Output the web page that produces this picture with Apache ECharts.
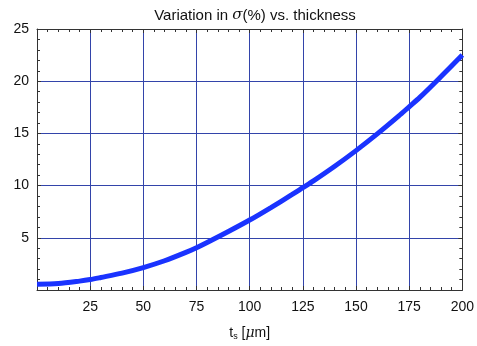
<!DOCTYPE html>
<html>
<head>
<meta charset="utf-8">
<script src="https://cdn.jsdelivr.net/npm/echarts@6/dist/echarts.min.js"></script>
<style>html,body{margin:0;padding:0;background:#fff;}#c{width:477px;height:346px;}</style>
</head>
<body>
<div id="c"></div>
<script>
var thickness = [0, 10, 20, 25, 30, 40, 50, 60, 70, 75, 80, 90, 100, 110, 120, 125, 130, 140, 150, 160, 170, 175, 180, 190, 200];
var sigmaVar  = [0.55, 0.62, 0.85, 1.0, 1.2, 1.62, 2.15, 2.8, 3.6, 4.05, 4.55, 5.6, 6.7, 7.9, 9.15, 9.8, 10.45, 11.85, 13.35, 14.95, 16.65, 17.55, 18.45, 20.45, 22.5];
var xTicks = [25, 50, 75, 100, 125, 150, 175, 200];
var yTicks = [5, 10, 15, 20, 25];

var FONT = 'Liberation Sans, Arial, sans-serif';
var gridColor = '#3344aa';
var frameColor = '#333';

function hideZero(list) {
  return function (v) { return list.indexOf(v) >= 0 ? String(v) : ''; };
}

var chart = echarts.init(document.getElementById('c'), null, {renderer: 'canvas'});
var baseAxis = {
  axisLine: {show: true, onZero: false, lineStyle: {color: frameColor, width: 1}},
  axisTick: {show: true, inside: true, length: 4, lineStyle: {color: frameColor}},
  minorTick: {show: true, splitNumber: 5, length: 3, lineStyle: {color: frameColor}}
};
chart.setOption({
  animation: false,
  backgroundColor: '#fff',
  title: {
    text: '{n|Variation in }{i|σ}{n|(%) vs. thickness}',
    left: 250, textAlign: 'center', top: 3,
    textStyle: {
      fontWeight: 'normal',
      rich: {
        n: {fontFamily: FONT, fontSize: 15, fontWeight: 'normal', color: '#111'},
        i: {fontFamily: 'DejaVu Serif, serif', fontStyle: 'italic', fontWeight: 'normal', fontSize: 15, color: '#111'}
      }
    }
  },
  grid: {left: 37, right: 14, top: 29, bottom: 53, containLabel: false},
  xAxis: [
    Object.assign({}, baseAxis, {
      type: 'value', min: 0, max: 200, interval: 25, position: 'bottom',
      axisLabel: {formatter: hideZero(xTicks), fontFamily: FONT, fontSize: 14, color: '#111', margin: 10},
      splitLine: {show: true, lineStyle: {color: gridColor, width: 1}},
      name: '{n|t}{s|s}{n| [}{i|μ}{n|m]}',
      nameLocation: 'middle', nameGap: 36,
      nameTextStyle: {
        rich: {
          n: {fontFamily: FONT, fontSize: 14, color: '#111'},
          s: {fontFamily: FONT, fontSize: 9, color: '#111', verticalAlign: 'bottom', padding: [6, 0, 0, 0]},
          i: {fontFamily: 'DejaVu Serif, serif', fontStyle: 'italic', fontSize: 14, color: '#111'}
        }
      }
    }),
    Object.assign({}, baseAxis, {
      type: 'value', min: 0, max: 200, interval: 25, position: 'top',
      axisLabel: {show: false}, splitLine: {show: false}
    })
  ],
  yAxis: [
    Object.assign({}, baseAxis, {
      type: 'value', min: 0, max: 25, interval: 5, position: 'left',
      axisLabel: {formatter: hideZero(yTicks), fontFamily: FONT, fontSize: 14, color: '#111', margin: 8},
      splitLine: {show: true, lineStyle: {color: gridColor, width: 1}}
    }),
    Object.assign({}, baseAxis, {
      type: 'value', min: 0, max: 25, interval: 5, position: 'right',
      axisLabel: {show: false}, splitLine: {show: false}
    })
  ],
  series: [{
    type: 'line',
    xAxisIndex: 0, yAxisIndex: 0,
    data: thickness.map(function (t, i) { return [t, sigmaVar[i]]; }),
    smooth: 0.3,
    showSymbol: false,
    lineStyle: {color: '#1a33ff', width: 5},
    z: 5
  }]
});
</script>
</body>
</html>
